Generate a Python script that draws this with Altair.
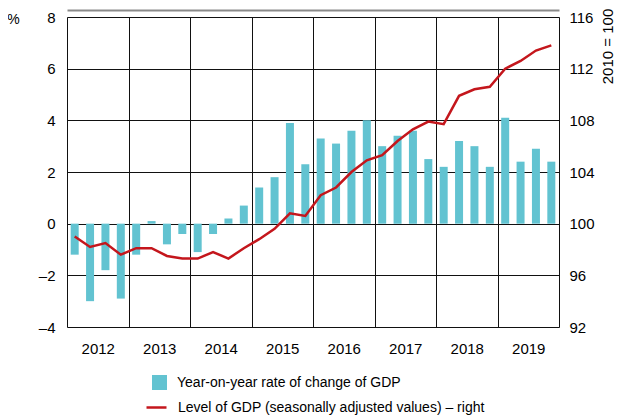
import altair as alt
import pandas as pd

# ---- data ----
years = [2012, 2013, 2014, 2015, 2016, 2017, 2018, 2019]
quarters = [1, 2, 3, 4]

# Year-on-year rate of change of GDP (%), quarterly 2012Q1..2019Q4
growth = [-1.2, -3.0, -1.8, -2.9,
          -1.2, 0.1, -0.8, -0.4,
          -1.1, -0.4, 0.2, 0.7,
          1.4, 1.8, 3.9, 2.3,
          3.3, 3.1, 3.6, 4.0,
          3.0, 3.4, 3.6, 2.5,
          2.2, 3.2, 3.0, 2.2,
          4.1, 2.4, 2.9, 2.4]

# Level of GDP, seasonally adjusted (2010 = 100), right axis
level = [99.0, 98.2, 98.5, 97.6,
         98.1, 98.1, 97.5, 97.3,
         97.3, 97.8, 97.3, 98.1,
         98.8, 99.6, 100.8, 100.6,
         102.2, 102.8, 104.0, 104.9,
         105.3, 106.4, 107.3, 107.9,
         107.7, 109.9, 110.4, 110.6,
         112.0, 112.6, 113.4, 113.8]

bar_label = "Year-on-year rate of change of GDP"
line_label = "Level of GDP (seasonally adjusted values) \u2013 right"

rows = []
i = 0
for y in years:
    for q in quarters:
        rows.append({"year": y, "q": q, "t": y + (q - 0.5) / 4,
                     "growth": growth[i], "level": level[i],
                     "s1": bar_label, "s2": line_label})
        i += 1
df = pd.DataFrame(rows)

FONT = "Liberation Sans, Arial, Roboto, sans-serif"
FS = 15
LFS = 14
W, H = 492, 310

xscale = alt.Scale(domain=[2012, 2020], nice=False, zero=False, padding=0)
xaxis = alt.Axis(values=list(range(2012, 2021)), title=None, ticks=False, domain=False,
                 grid=True, gridColor="#111", gridWidth=1,
                 labelExpr="datum.value < 2020 ? format(datum.value, 'd') : ''",
                 labelOffset=W / 16, labelPadding=14, labelFontSize=FS,
                 labelFlush=False, labelOverlap=False,
                 labelFont=FONT, labelColor="#000")

# thin grey rule across the top of the figure (drawn as the domain of a top axis)
topaxis = alt.Axis(orient="top", title=None, labels=False, ticks=False, grid=False,
                   domain=True, domainColor="#8a8a8a", domainWidth=2, offset=7)

base = alt.Chart(df)

bars = base.mark_bar(size=8).encode(
    x=alt.X("t:Q", scale=xscale, axis=xaxis),
    y=alt.Y("growth:Q", scale=alt.Scale(domain=[-4, 8], nice=False),
            axis=alt.Axis(values=[-4, -2, 0, 2, 4, 6, 8], orient="left", ticks=False,
                          domain=False, grid=True, gridColor="#111", gridWidth=1,
                          labelExpr="datum.value < 0 ? '\u2013' + abs(datum.value) : datum.label",
                          labelPadding=12, labelFontSize=FS, labelFont=FONT, labelColor="#000",
                          title="%", titleAngle=0, titleX=-54, titleY=2,
                          titleAlign="center", titleBaseline="middle",
                          titleFontSize=14, titleFontWeight="normal", titleFont=FONT,
                          titleColor="#000")),
    fill=alt.Fill("s1:N", scale=alt.Scale(range=["#62C3D1"]),
                  legend=alt.Legend(title=None, orient="none", legendX=85, legendY=358,
                                    symbolType="square", symbolSize=225, symbolStrokeWidth=0,
                                    labelFontSize=LFS, labelFont=FONT, labelColor="#000",
                                    labelOffset=10, labelLimit=0, padding=0)),
)

line = base.mark_line(strokeWidth=2.5).encode(
    x=alt.X("t:Q", scale=xscale, axis=topaxis),
    y=alt.Y("level:Q", scale=alt.Scale(domain=[92, 116], nice=False, zero=False),
            axis=alt.Axis(values=[92, 96, 100, 104, 108, 112, 116], orient="right",
                          ticks=False, domain=False, grid=False,
                          labelPadding=10, labelFontSize=FS, labelFont=FONT, labelColor="#000",
                          title="2010 = 100", titleAngle=270, titleX=48, titleY=29,
                          titleAlign="center", titleBaseline="middle",
                          titleFontSize=15, titleFontWeight="normal", titleFont=FONT,
                          titleColor="#000")),
    stroke=alt.Stroke("s2:N", scale=alt.Scale(range=["#C4161C"]),
                      legend=alt.Legend(title=None, orient="none", legendX=78, legendY=379,
                                        symbolType="stroke", symbolSize=400,
                                        symbolStrokeWidth=2.5,
                                        labelFontSize=LFS, labelFont=FONT, labelColor="#000",
                                        labelOffset=10, labelLimit=0, padding=0)),
)

chart = alt.layer(bars, line).resolve_scale(
    y="independent", fill="independent", stroke="independent"
).resolve_axis(
    x="independent"
).properties(
    width=W, height=H,
    autosize=alt.AutoSizeParams(type="none"),
    padding={"left": 59, "top": 9, "right": 55, "bottom": 88},
).configure_view(
    stroke="#000", strokeWidth=2
).configure(background="white")

chart.save("out.html", embed_options={"renderer": "svg", "actions": False})
